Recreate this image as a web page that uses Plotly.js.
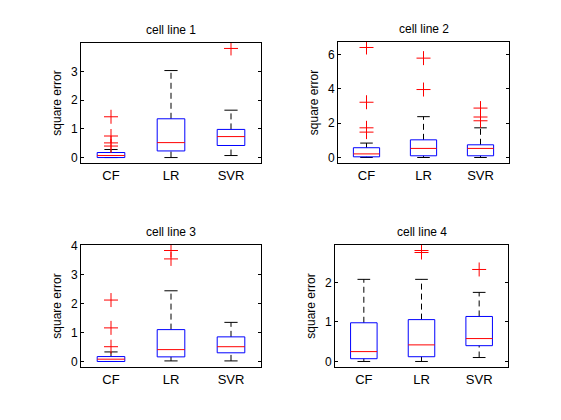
<!DOCTYPE html>
<html>
<head>
<meta charset="utf-8">
<script src="https://cdn.plot.ly/plotly-3.0.1.min.js"></script>
<style>html,body{margin:0;padding:0;background:#fff;}#chart{width:561px;height:420px;}</style>
</head>
<body>
<div id="chart"></div>
<script>
const categories = ['CF', 'LR', 'SVR'];
const panelTitles = ['cell line 1', 'cell line 2', 'cell line 3', 'cell line 4'];

// panel 1
const q1_1 = [0.00, 0.23, 0.42];
const med_1 = [0.07, 0.52, 0.73];
const q3_1 = [0.175, 1.35, 0.98];
const lo_1 = [0.00, 0.00, 0.07];
const hi_1 = [0.28, 3.03, 1.65];
const out_1 = [[0.40, 0.51, 0.75, 1.42], [], [3.80]];

// panel 2
const q1_2 = [0.04, 0.10, 0.10];
const med_2 = [0.21, 0.53, 0.53];
const q3_2 = [0.57, 1.03, 0.74];
const lo_2 = [0.00, 0.00, 0.00];
const hi_2 = [0.84, 2.38, 1.73];
const out_2 = [[1.48, 1.73, 3.22, 6.41], [3.96, 5.79], [2.14, 2.36, 2.88]];

// panel 3
const q1_3 = [0.00, 0.16, 0.30];
const med_3 = [0.08, 0.41, 0.51];
const q3_3 = [0.17, 1.10, 0.85];
const lo_3 = [0.00, 0.02, 0.02];
const hi_3 = [0.33, 2.44, 1.35];
const out_3 = [[0.51, 1.16, 2.12], [3.54, 3.83], []];

// panel 4
const q1_4 = [0.07, 0.12, 0.40];
const med_4 = [0.25, 0.42, 0.58];
const q3_4 = [0.98, 1.06, 1.14];
const lo_4 = [0.00, 0.00, 0.10];
const hi_4 = [2.08, 2.08, 1.75];
const out_4 = [[], [2.76, 2.81], [2.33]];

const yRanges = [[-0.19, 3.99], [-0.32, 6.73], [-0.19, 4.02], [-0.14, 2.95]];
const yDticks = [1, 2, 1, 1];

const panels = [
  {q1: q1_1, med: med_1, q3: q3_1, lo: lo_1, hi: hi_1, out: out_1},
  {q1: q1_2, med: med_2, q3: q3_2, lo: lo_2, hi: hi_2, out: out_2},
  {q1: q1_3, med: med_3, q3: q3_3, lo: lo_3, hi: hi_3, out: out_3},
  {q1: q1_4, med: med_4, q3: q3_4, lo: lo_4, hi: hi_4, out: out_4}
];

const W = 561, H = 420;
// axes boxes in pixels [left, right, top, bottom]
const boxes = [[81, 261, 43, 163], [338, 509, 42, 163], [81, 261, 245, 367], [335, 508, 245, 367]];
const HW = 0.23;   // half box width
const CW = 0.11;   // half cap width
const FONT = 'Liberation Sans, Arial, Helvetica, sans-serif';

const traces = [];
const layout = {
  width: W, height: H,
  margin: {l: 0, r: 0, t: 0, b: 0},
  paper_bgcolor: '#ffffff', plot_bgcolor: '#ffffff',
  showlegend: false,
  font: {family: FONT, color: '#000000', size: 12},
  annotations: []
};

panels.forEach((p, k) => {
  const n = k + 1;
  const xa = n === 1 ? 'x' : 'x' + n;
  const ya = n === 1 ? 'y' : 'y' + n;
  const xs = [], ys = [], mx = [], my = [], wx = [], wy = [], cx = [], cy = [], ox = [], oy = [];
  categories.forEach((c, i) => {
    const x = i + 1;
    xs.push(x - HW, x + HW, x + HW, x - HW, x - HW, null);
    ys.push(p.q1[i], p.q1[i], p.q3[i], p.q3[i], p.q1[i], null);
    mx.push(x - HW, x + HW, null);
    my.push(p.med[i], p.med[i], null);
    wx.push(x, x, null, x, x, null);
    wy.push(p.q3[i], p.hi[i], null, p.lo[i], p.q1[i], null);
    cx.push(x - CW, x + CW, null, x - CW, x + CW, null);
    cy.push(p.hi[i], p.hi[i], null, p.lo[i], p.lo[i], null);
    p.out[i].forEach(v => { ox.push(x); oy.push(v); });
  });
  traces.push({type: 'scatter', mode: 'lines', x: wx, y: wy, xaxis: xa, yaxis: ya,
    line: {color: '#000000', width: 1, dash: '6px,4px'}, hoverinfo: 'skip'});
  traces.push({type: 'scatter', mode: 'lines', x: cx, y: cy, xaxis: xa, yaxis: ya,
    line: {color: '#000000', width: 1}, hoverinfo: 'skip'});
  traces.push({type: 'scatter', mode: 'lines', x: xs, y: ys, xaxis: xa, yaxis: ya,
    line: {color: '#0000ff', width: 1}, hoverinfo: 'skip'});
  traces.push({type: 'scatter', mode: 'lines', x: mx, y: my, xaxis: xa, yaxis: ya,
    line: {color: '#ff0000', width: 1}, hoverinfo: 'skip'});
  traces.push({type: 'scatter', mode: 'markers', x: ox, y: oy, xaxis: xa, yaxis: ya,
    marker: {symbol: 'cross-thin-open', size: 10, color: '#ff0000', line: {color: '#ff0000', width: 1}},
    hoverinfo: 'skip'});

  const b = boxes[k];
  const xdom = [b[0] / W, b[1] / W];
  const ydom = [1 - b[3] / H, 1 - b[2] / H];
  layout['xaxis' + (n === 1 ? '' : n)] = {
    domain: xdom, anchor: ya, range: [0.5, 3.5],
    tickmode: 'array', tickvals: [1, 2, 3], ticktext: categories,
    ticks: '', showgrid: false, zeroline: false,
    showline: true, mirror: true, linecolor: '#000000', linewidth: 1,
    tickfont: {family: FONT, size: 13, color: '#000000'}, fixedrange: true
  };
  layout['yaxis' + (n === 1 ? '' : n)] = {
    domain: ydom, anchor: xa, range: yRanges[k],
    tick0: 0, dtick: yDticks[k],
    ticks: 'inside', ticklen: 3, tickcolor: '#000000', tickwidth: 1,
    showgrid: false, zeroline: false,
    showline: true, mirror: 'ticks', linecolor: '#000000', linewidth: 1,
    tickfont: {family: FONT, size: 12, color: '#000000'},
    title: {text: 'square error', font: {family: FONT, size: 12, color: '#000000'}, standoff: 6},
    fixedrange: true
  };
  layout.annotations.push({
    text: panelTitles[k], xref: 'paper', yref: 'paper',
    x: (xdom[0] + xdom[1]) / 2, y: ydom[1], xanchor: 'center', yanchor: 'bottom',
    yshift: 4, showarrow: false, font: {family: FONT, size: 12, color: '#000000'}
  });
});

Plotly.newPlot('chart', traces, layout, {staticPlot: true, displayModeBar: false});
</script>
</body>
</html>
